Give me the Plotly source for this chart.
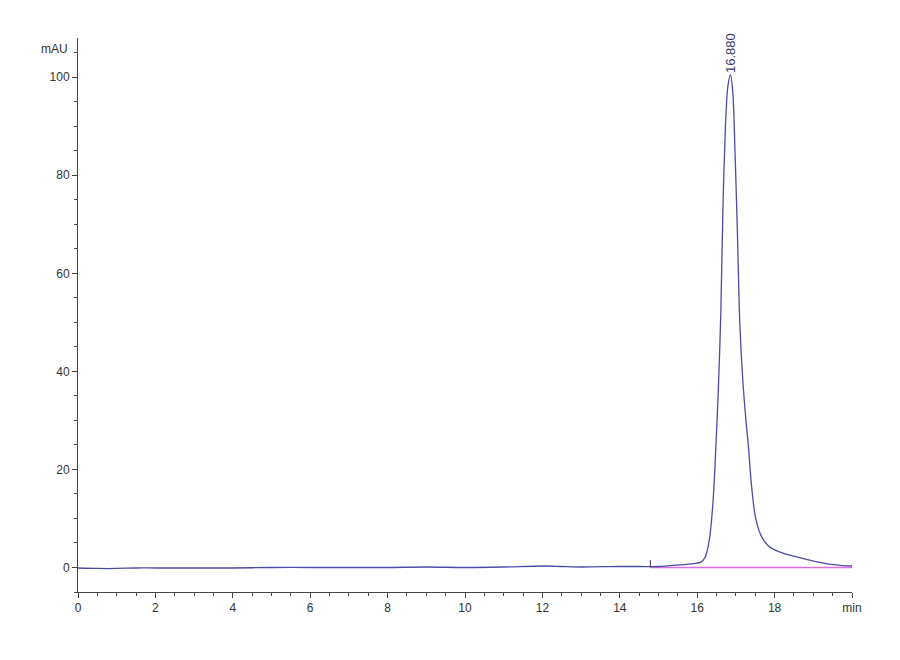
import plotly.graph_objects as go

# chromatogram (time in min, signal in mAU)
time_min = [0.0, 0.5, 1.0, 1.5, 2.0, 3.0, 4.0, 5.0, 6.0, 7.0, 8.0, 9.0, 10.0, 11.0,
            12.0, 12.5, 13.0, 14.0, 14.5, 15.0, 15.5, 15.9, 16.1, 16.2, 16.26, 16.32,
            16.37, 16.43, 16.49, 16.55, 16.61, 16.67, 16.73, 16.79, 16.86, 16.92,
            16.98, 17.04, 17.1, 17.18, 17.26, 17.32, 17.4, 17.5, 17.65, 17.84, 18.0,
            18.27, 18.5, 18.8, 18.95, 19.2, 19.4, 19.7, 20.0]
signal_mau = [-0.1, -0.2, -0.2, -0.1, -0.1, -0.1, -0.1, 0.0, 0.0, 0.0, 0.0, 0.1, 0.0, 0.1,
              0.3, 0.2, 0.1, 0.2, 0.2, 0.2, 0.5, 0.8, 1.1, 2.0, 3.5, 6.0,
              9.6, 16.0, 26.0, 37.0, 52.0, 75.0, 90.0, 98.0, 100.5, 97.0,
              84.0, 68.0, 50.0, 38.0, 30.0, 25.0, 17.0, 10.5, 6.5, 4.4, 3.6,
              2.8, 2.3, 1.7, 1.4, 1.0, 0.7, 0.45, 0.3]

# integration baseline and start marker
baseline_t = [14.79, 20.0]
baseline_v = [0.0, 0.0]
start_t = [14.79, 14.79]
start_v = [0.0, 1.5]

peak_t = 16.88
peak_v = 100.5
peak_label = "16.880"

x_ticks = [0, 2, 4, 6, 8, 10, 12, 14, 16, 18, 20]
x_labels = ["0", "2", "4", "6", "8", "10", "12", "14", "16", "18", "min"]
y_ticks = [0, 20, 40, 60, 80, 100]

font = dict(family="Liberation Sans Narrow, Liberation Sans, Arial", size=12, color="#333333")

fig = go.Figure()
fig.add_trace(go.Scatter(x=baseline_t, y=baseline_v, mode="lines",
                         line=dict(color="#e070e0", width=1.6), hoverinfo="skip"))
fig.add_trace(go.Scatter(x=time_min, y=signal_mau, mode="lines",
                         line=dict(color="#4c4ca8", width=1.3, shape="spline", smoothing=0.8)))
fig.add_trace(go.Scatter(x=start_t, y=start_v, mode="lines",
                         line=dict(color="#333355", width=1), hoverinfo="skip"))

fig.add_annotation(x=peak_t, y=peak_v, text=peak_label, textangle=-90,
                   showarrow=False, xanchor="center", yanchor="bottom",
                   font=dict(family=font["family"], size=13, color="#3a3a70"))
fig.add_annotation(xref="paper", yref="paper", x=0, y=1, text="mAU",
                   showarrow=False, xanchor="right", yanchor="top", xshift=-8, yshift=-2,
                   font=font)

axis_common = dict(showline=True, linecolor="#444444", linewidth=1, showgrid=False,
                   zeroline=False, ticks="outside", ticklen=5, tickcolor="#444444",
                   tickfont=font)

# the page adds 8px body margin, so the margins are trimmed to land the axes in place
fig.update_layout(
    width=900, height=660,
    margin=dict(l=70, r=56, t=30, b=76),
    paper_bgcolor="white", plot_bgcolor="white",
    showlegend=False,
    xaxis=dict(range=[0, 20], tickvals=x_ticks, ticktext=x_labels,
               minor=dict(dtick=0.5, ticks="outside", ticklen=3, tickcolor="#444444"),
               **axis_common),
    yaxis=dict(range=[-5, 108], tickvals=y_ticks,
               minor=dict(tick0=0, dtick=5, ticks="outside", ticklen=3, tickcolor="#444444"),
               **axis_common),
)

fig.write_html("out.html")
